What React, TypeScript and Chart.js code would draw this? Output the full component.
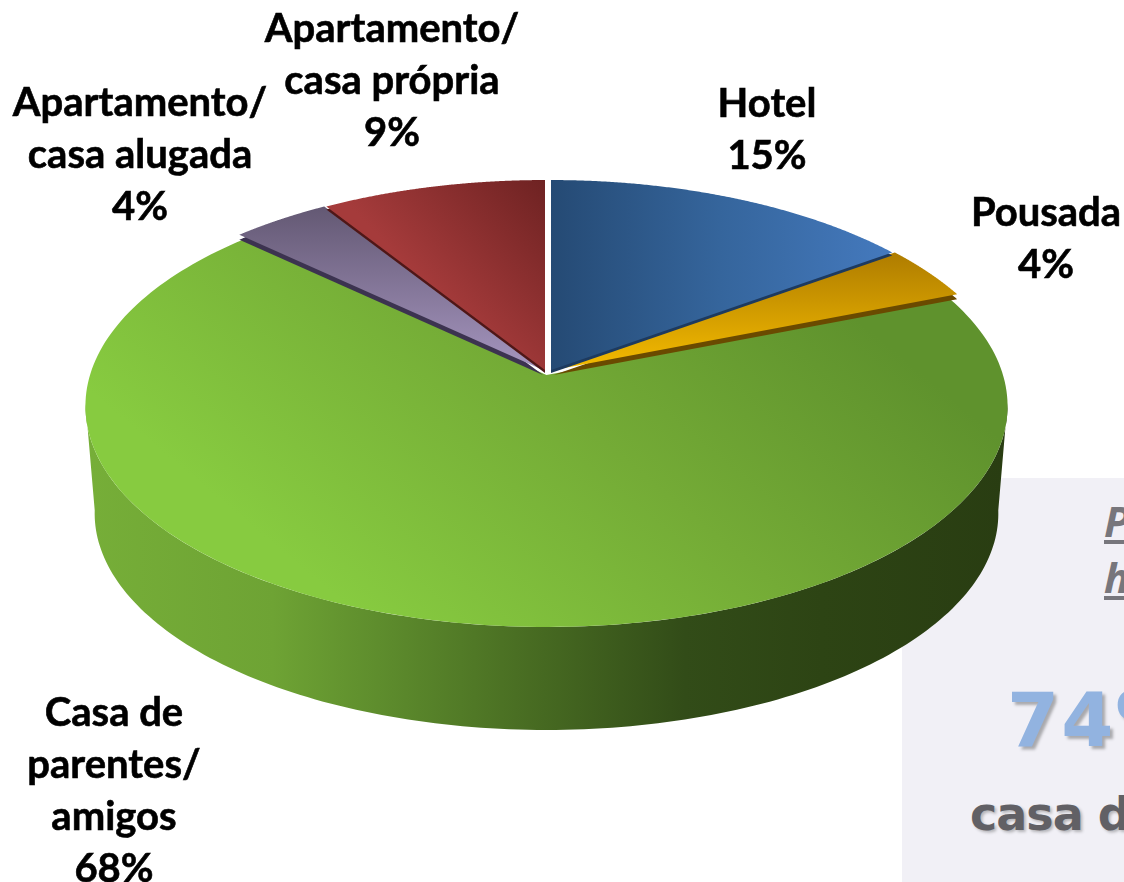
import React, { useEffect, useRef } from "react";
import { Chart, registerables } from "chart.js";

Chart.register(...registerables);

const categories = ["Hotel", "Pousada", "Casa de parentes/ amigos", "Apartamento/ casa alugada", "Apartamento/ casa própria"];
const shares = [15, 4, 68, 4, 9];
const labelLines = [["Hotel"], ["Pousada"], ["Casa de", "parentes/", "amigos"], ["Apartamento/", "casa alugada"], ["Apartamento/", "casa própria"]];

const labelAt = [
  { x: 767, y: 104 },
  { x: 1046, y: 213 },
  { x: 114, y: 713 },
  { x: 140, y: 103 },
  { x: 392, y: 29 },
];
const LINE = 52;

// Perspective projection of the pie's top face
const CX = 546.5, CY = 375, R = 456.5, A = 164, C = -0.1403;
const BASE_K = 0.98, BASE_DY = 108;

const top3d = (t: number) => {
  const u = Math.cos(t), v = Math.sin(t), d = 1 + C * v;
  return { x: CX + (R * u) / d, y: (A * v + CY) / d };
};
const base3d = (t: number) => {
  const p = top3d(t);
  return { x: CX + BASE_K * (p.x - CX), y: CY + BASE_DY + BASE_K * (p.y - CY) };
};

// per-slice look: explode offset, thin wall depth, wall colour, gradient
type G = { from: [number, number]; to: [number, number]; stops: [number, string][] };
const looks: { dx: number; dy: number; depth: number; wall: string; grad: G }[] = [
  { dx: 4.5, dy: -5, depth: 3, wall: "#1d3a5f", grad: { from: [551, 0], to: [888, 0], stops: [[0, "#254a74"], [0.5, "#35659c"], [1, "#4479bd"]] } },
  { dx: 7, dy: -5, depth: 5, wall: "#6a4a00", grad: { from: [0, 252], to: [0, 368], stops: [[0, "#ae7c00"], [1, "#f3ba00"]] } },
  { dx: 0, dy: 0, depth: 0, wall: "", grad: { from: [400, 650], to: [750, 230], stops: [[0, "#87cb40"], [0.53, "#74ab36"], [1, "#5f922d"]] } },
  { dx: -3.5, dy: -5, depth: 5, wall: "#3c3350", grad: { from: [0, 206], to: [0, 372], stops: [[0, "#635873"], [1, "#a696c0"]] } },
  { dx: -1.5, dy: -5, depth: 3, wall: "#4f1717", grad: { from: [545, 180], to: [430, 290], stops: [[0, "#6e2222"], [1, "#a53b3b"]] } },
];
const paintOrder = [2, 3, 4, 1, 0];

const wallStops: [number, string][] = [
  [0, "#76ae38"], [0.2, "#6ea334"], [0.33, "#5c8a2c"], [0.48, "#486c22"], [0.65, "#324c18"], [0.8, "#2d4414"], [1, "#293d12"],
];

const pie3d = {
  id: "pie3d",
  beforeDatasetsDraw(chart: any) {
    const ctx: CanvasRenderingContext2D = chart.ctx;
    const arcs = chart.getDatasetMeta(0).data;
    const tR = 0.127, tL = Math.PI - 0.127;

    // outer wall of front-facing arcs
    arcs.forEach((arc: any) => {
      const s = Math.max(arc.startAngle, tR), e = Math.min(arc.endAngle, tL);
      if (e <= s) return;
      const g = ctx.createLinearGradient(90, 0, 1005, 0);
      wallStops.forEach(([o, c]) => g.addColorStop(o, c));
      ctx.beginPath();
      const n = 160;
      for (let i = 0; i <= n; i++) {
        const p = top3d(s + ((e - s) * i) / n);
        i ? ctx.lineTo(p.x, p.y) : ctx.moveTo(p.x, p.y);
      }
      for (let i = n; i >= 0; i--) {
        const p = base3d(s + ((e - s) * i) / n);
        ctx.lineTo(p.x, p.y);
      }
      ctx.closePath();
      ctx.fillStyle = g;
      ctx.fill();
    });

    const trace = (arc: any, ox: number, oy: number) => {
      ctx.beginPath();
      ctx.moveTo(CX + ox, CY + oy);
      const n = 200;
      for (let i = 0; i <= n; i++) {
        const p = top3d(arc.startAngle + ((arc.endAngle - arc.startAngle) * i) / n);
        ctx.lineTo(p.x + ox, p.y + oy);
      }
      ctx.closePath();
    };

    paintOrder.forEach((idx) => {
      const arc = arcs[idx];
      const l = looks[idx];
      if (l.depth) {
        trace(arc, l.dx, l.dy + l.depth);
        ctx.fillStyle = l.wall;
        ctx.fill();
      }
      const g = ctx.createLinearGradient(l.grad.from[0], l.grad.from[1], l.grad.to[0], l.grad.to[1]);
      l.grad.stops.forEach(([o, c]) => g.addColorStop(o, c));
      trace(arc, l.dx, l.dy);
      ctx.fillStyle = g;
      ctx.fill();
    });
    return false;
  },
  afterDraw(chart: any) {
    const ctx: CanvasRenderingContext2D = chart.ctx;
    ctx.save();
    ctx.font = 'bold 40px Lato, "Open Sans", sans-serif';
    ctx.fillStyle = "#000";
    ctx.strokeStyle = "#000";
    ctx.lineWidth = 0.6;
    ctx.textAlign = "center";
    ctx.textBaseline = "middle";
    categories.forEach((_, i) => {
      const lines = [...labelLines[i], `${shares[i]}%`];
      lines.forEach((t, j) => {
        ctx.fillText(t, labelAt[i].x, labelAt[i].y + j * LINE);
        ctx.strokeText(t, labelAt[i].x, labelAt[i].y + j * LINE);
      });
    });
    ctx.restore();
  },
};

const abs = (o: React.CSSProperties): React.CSSProperties => ({ position: "absolute", whiteSpace: "nowrap", ...o });

export default function App() {
  const ref = useRef<HTMLCanvasElement>(null);
  useEffect(() => {
    const chart = new Chart(ref.current!, {
      type: "pie",
      data: { labels: categories, datasets: [{ data: shares, backgroundColor: looks.map((l) => l.wall || "#75ae36"), borderWidth: 0 }] },
      options: {
        animation: false,
        responsive: false,
        plugins: { legend: { display: false }, tooltip: { enabled: false } },
      },
      plugins: [pie3d],
    } as any);
    return () => chart.destroy();
  }, []);
  const italic: React.CSSProperties = { fontFamily: '"Open Sans", sans-serif', fontWeight: 700, fontStyle: "italic", fontSize: 42, color: "#77767c", textDecoration: "underline" };
  return (
    <div style={{ position: "fixed", left: 0, top: 0, width: 1124, height: 882, overflow: "hidden", background: "#fff" }}>
      <div style={{ position: "absolute", left: 902, top: 478, width: 222, height: 404, background: "#f1f0f6", overflow: "hidden" }}>
        <div style={abs({ ...italic, left: 202, top: 14 })}>P</div>
        <div style={abs({ ...italic, left: 202, top: 70 })}>h</div>
        <div style={abs({ left: 105, top: 198, fontFamily: '"DejaVu Sans", sans-serif', fontWeight: 700, fontSize: 75, letterSpacing: 2, color: "#92b3e0", textShadow: "3px 3px 3px #a9a9ad" })}>74%</div>
        <div style={abs({ left: 68, top: 309, fontFamily: '"DejaVu Sans", sans-serif', fontWeight: 700, fontSize: 46, letterSpacing: -1, color: "#616065", textShadow: "2px 2px 3px #b5b5b9" })}>casa de</div>
      </div>
      <canvas ref={ref} width={1124} height={882} style={{ position: "absolute", left: 0, top: 0, display: "block" }} />
    </div>
  );
}
